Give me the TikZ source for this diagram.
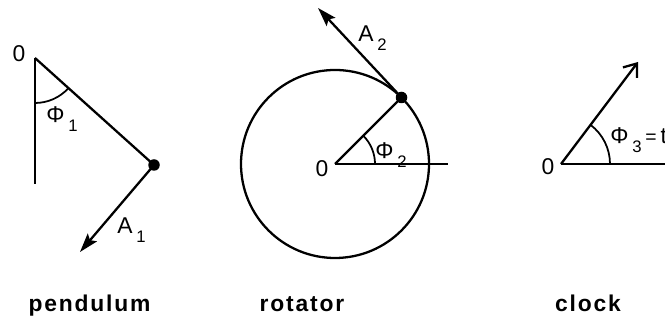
\documentclass[tikz,border=0pt]{standalone}
\usepackage{fontspec}
\setmainfont{Liberation Sans}
\newfontfamily\capfont[LetterSpace=8]{Liberation Sans Bold}
\usetikzlibrary{arrows.meta,calc}
\newcommand\idx[1]{\,\raisebox{-0.7ex}{\fontsize{9.5}{10}\selectfont #1}}
\tikzset{
  rodline/.style  = {line width=1.3pt},
  anglearc/.style = {line width=1pt},
  vecfill/.style  = {line width=1.3pt, -{Stealth[length=3.8mm,width=2.4mm,inset=0.7mm]}},
  vecopen/.style  = {line width=1.3pt, -{Straight Barb[length=2.3mm,width=3.5mm]}},
  bob/.style      = {circle, fill, inner sep=0pt, minimum size=2.3mm},
  symb/.style     = {font=\fontsize{13}{15}\selectfont, inner sep=0pt, anchor=base},
  namelbl/.style  = {font=\capfont\fontsize{13}{15}\selectfont, inner sep=0pt, anchor=base},
}

\begin{document}
\begin{tikzpicture}[x=0.02cm,y=0.02cm]
  \useasboundingbox (0,0) rectangle (665,320);

  % pendulum
  \coordinate (piv) at (35,262);
  \coordinate (plumb) at (35,136);
  \node[bob] (pbob) at (154,155) {};
  \coordinate (ptip) at (80,68);
  \draw[rodline] (piv) -- (plumb);
  \draw[rodline] (piv) -- (pbob.center);
  \draw[vecfill] (pbob.center) -- (ptip);
  \draw[anglearc] ($(piv)+(-90:45)$) arc[start angle=-90, end angle=-42, radius=45];
  \node[symb] (pzero) at (19,258) {0};
  \node[symb,anchor=base west] (phione) at (46,197) {Φ\idx{1}};
  \node[symb,anchor=base west] (aone) at (117,86) {A\idx{1}};

  % rotator
  \coordinate (ctr) at (335,156);
  \coordinate (axis) at (448,156);
  \node[bob] (rbob) at (401.5,222.5) {};
  \coordinate (rtip) at (318,312);
  \draw[rodline] (ctr) circle[radius=94];
  \draw[rodline] (ctr) -- (axis);
  \draw[rodline] (ctr) -- (rbob.center);
  \draw[vecfill] (rbob.center) -- (rtip);
  \draw[anglearc] ($(ctr)+(40,0)$) arc[start angle=0, end angle=45, radius=40];
  \node[symb] (rzero) at (322,143) {0};
  \node[symb,anchor=base west] (phitwo) at (375,161) {Φ\idx{2}};
  \node[symb,anchor=base west] (atwo) at (358,278) {A\idx{2}};

  % clock
  \coordinate (hub) at (561,156);
  \coordinate (edge) at (665,156);
  \coordinate (hand) at (638,258);
  \draw[rodline] (hub) -- (edge);
  \draw[vecopen] (hub) -- (hand);
  \draw[anglearc] ($(hub)+(49,0)$) arc[start angle=0, end angle=53, radius=49];
  \node[symb] (czero) at (548,145) {0};
  \node[symb,anchor=base west] (phithree) at (610,176) {Φ\idx{3}\,{\fontsize{11}{13}\selectfont=}\,t};

  % names
  \node[namelbl] (pname) at (89.5,8) {pendulum};
  \node[namelbl] (rname) at (302,8) {rotator};
  \node[namelbl] (cname) at (588,8) {clock};
\end{tikzpicture}
\end{document}
